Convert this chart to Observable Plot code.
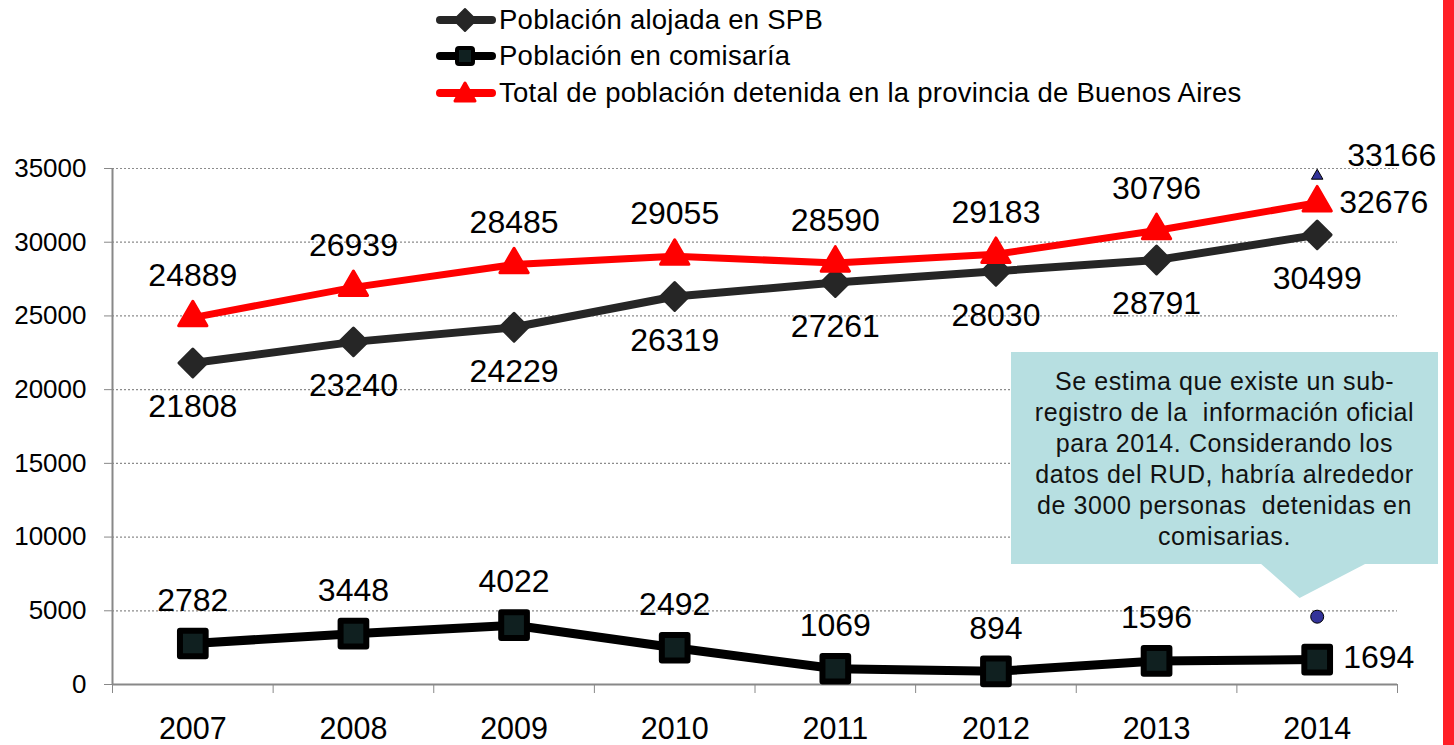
<!DOCTYPE html>
<html><head><meta charset="utf-8">
<script src="https://cdn.jsdelivr.net/npm/d3@7"></script>
<script src="https://cdn.jsdelivr.net/npm/@observablehq/plot@0.6"></script>
<style>
body{margin:0;background:#fff;font-family:"Liberation Sans",Arial,sans-serif;width:1454px;height:745px;overflow:hidden;position:relative}
#legend{position:relative;height:110px}
.lg{position:absolute;left:436px;height:34px;display:flex;align-items:center;font-size:27.5px;letter-spacing:0.25px;color:#000;white-space:nowrap}
.lg svg{margin-right:3px}
#redbar{position:absolute;left:1443px;top:0;width:11px;height:745px;background:#ff1f26}
#callout{position:absolute;left:1011px;top:352px;width:427px;height:212px;background:#b7dfe1;text-align:center;font-size:25px;letter-spacing:0.6px;line-height:31px;padding-top:14px;box-sizing:border-box;color:#111;white-space:nowrap}
#pointer{position:absolute;left:1260px;top:563px;width:107px;height:35px;background:#b7dfe1;clip-path:polygon(0 0,100% 0,37% 100%)}
</style></head>
<body>
<div id="legend"></div>
<div id="chart"></div>
<div id="callout">Se estima que existe un sub-<br>registro de la&nbsp; información oficial<br>para 2014. Considerando los<br>datos del RUD, habría alrededor<br>de 3000 personas&nbsp; detenidas en<br>comisarias.</div>
<div id="pointer"></div>
<div id="redbar"></div>
<script>
const years = [2007, 2008, 2009, 2010, 2011, 2012, 2013, 2014];
const spb = [21808, 23240, 24229, 26319, 27261, 28030, 28791, 30499];
const comisaria = [2782, 3448, 4022, 2492, 1069, 894, 1596, 1694];
const total = [24889, 26939, 28485, 29055, 28590, 29183, 30796, 32676];
const seriesNames = ["Población alojada en SPB", "Población en comisaría", "Total de población detenida en la provincia de Buenos Aires"];
const extraYear = 2014;
const extraTotalPos = 34500;
const extraTotalLabel = "33166";
const extraComisaria = 4600;
const yTicks = [0, 5000, 10000, 15000, 20000, 25000, 30000, 35000];

const rows = (vals) => years.map((y, i) => ({year: y, value: vals[i]}));
const dSpb = rows(spb), dCom = rows(comisaria), dTot = rows(total);
const lastYear = years[years.length - 1];
const notLast = d => d.year !== lastYear;
const isLast = d => d.year === lastYear;
const bounds = d3.range(years[0] - 0.5, lastYear + 1, 1);

// legend
const legend = document.getElementById("legend");
const styles = [
  {stroke: "#262626", fill: "#262626", sym: "diamond"},
  {stroke: "#000", fill: "#102020", sym: "square"},
  {stroke: "#ff0000", fill: "#ff0000", sym: "triangle"}
];
const tops = [3, 39, 76];
seriesNames.forEach((name, i) => {
  const s = styles[i];
  let m;
  if (s.sym === "diamond") m = `<path d="M29,5 L40,16 L29,27 L18,16Z" fill="${s.fill}" stroke="${s.stroke}" stroke-width="2" stroke-linejoin="round"/>`;
  else if (s.sym === "square") m = `<rect x="21" y="8" width="16" height="16" fill="${s.fill}" stroke="${s.stroke}" stroke-width="4" rx="2"/>`;
  else m = `<path d="M29,6 L39,24 L19,24Z" fill="${s.fill}" stroke="${s.stroke}" stroke-width="3" stroke-linejoin="round"/>`;
  const div = document.createElement("div");
  div.className = "lg";
  div.style.top = tops[i] + "px";
  div.innerHTML = `<svg width="60" height="32"><line x1="4" x2="56" y1="16" y2="16" stroke="${s.stroke}" stroke-width="8" stroke-linecap="round"/>${m}</svg><span>${name}</span>`;
  legend.appendChild(div);
});

const labelFont = 32;
const chart = Plot.plot({
  width: 1454,
  height: 635,
  marginTop: 58,
  marginBottom: 61,
  marginLeft: 112,
  marginRight: 57,
  style: {fontFamily: "'Liberation Sans', Arial, sans-serif", background: "white", color: "#000", overflow: "visible"},
  x: {domain: [years[0] - 0.5, lastYear + 0.5]},
  y: {domain: [0, 35000]},
  marks: [
    Plot.gridY(yTicks.filter(t => t > 0), {stroke: "#8c8c8c", strokeOpacity: 1, strokeDasharray: "2,2", strokeWidth: 1.2}),
    Plot.axisY(yTicks, {tickSize: 8, tickPadding: 18, fontSize: 26, tickFormat: d => String(d), stroke: "#888", label: null}),
    Plot.axisX(bounds, {tickSize: 9, tickFormat: () => "", stroke: "#888", label: null}),
    Plot.axisX(years, {tickSize: 0, tickPadding: 33, fontSize: 30.5, tickFormat: d => String(d), label: null}),
    Plot.ruleX([years[0] - 0.5], {stroke: "#888", strokeWidth: 2}),
    Plot.ruleY([0], {stroke: "#888", strokeWidth: 2}),
    // lines
    Plot.line(dCom, {x: "year", y: "value", stroke: "#000", strokeWidth: 9}),
    Plot.line(dSpb, {x: "year", y: "value", stroke: "#262626", strokeWidth: 8}),
    Plot.line(dTot, {x: "year", y: "value", stroke: "#ff0000", strokeWidth: 7}),
    // markers
    Plot.dot(dCom, {x: "year", y: "value", symbol: "square", r: 14.5, fill: "#102020", stroke: "#000", strokeWidth: 6, strokeLinejoin: "round"}),
    Plot.dot(dSpb, {x: "year", y: "value", symbol: "diamond2", r: 12.5, fill: "#262626", stroke: "#262626", strokeWidth: 3, strokeLinejoin: "round"}),
    Plot.dot(dTot, {x: "year", y: "value", symbol: "triangle2", r: 13.5, fill: "#ff0000", stroke: "#ff0000", strokeWidth: 3, strokeLinejoin: "round"}),
    Plot.dot([{year: extraYear, value: extraTotalPos}], {x: "year", y: "value", symbol: "triangle2", r: 5.5, fill: "#333399", stroke: "#000", strokeWidth: 1}),
    Plot.dot([{year: extraYear, value: extraComisaria}], {x: "year", y: "value", r: 6.5, fill: "#333399", stroke: "#000", strokeWidth: 1}),
    // labels
    Plot.text(dTot.filter(notLast), {x: "year", y: "value", text: d => String(d.value), dy: -42, fontSize: labelFont}),
    Plot.text(dTot.filter(isLast), {x: "year", y: "value", text: d => String(d.value), dx: 22, textAnchor: "start", fontSize: labelFont}),
    Plot.text(dSpb, {x: "year", y: "value", text: d => String(d.value), dy: 44, fontSize: labelFont}),
    Plot.text(dCom.filter(notLast), {x: "year", y: "value", text: d => String(d.value), dy: -43, fontSize: labelFont}),
    Plot.text(dCom.filter(isLast), {x: "year", y: "value", text: d => String(d.value), dx: 26, dy: -2, textAnchor: "start", fontSize: labelFont}),
    Plot.text([{year: extraYear, value: extraTotalPos, label: extraTotalLabel}], {x: "year", y: "value", text: "label", dx: 30, dy: -20, textAnchor: "start", fontSize: labelFont})
  ]
});
document.getElementById("chart").appendChild(chart);
</script>
</body></html>
